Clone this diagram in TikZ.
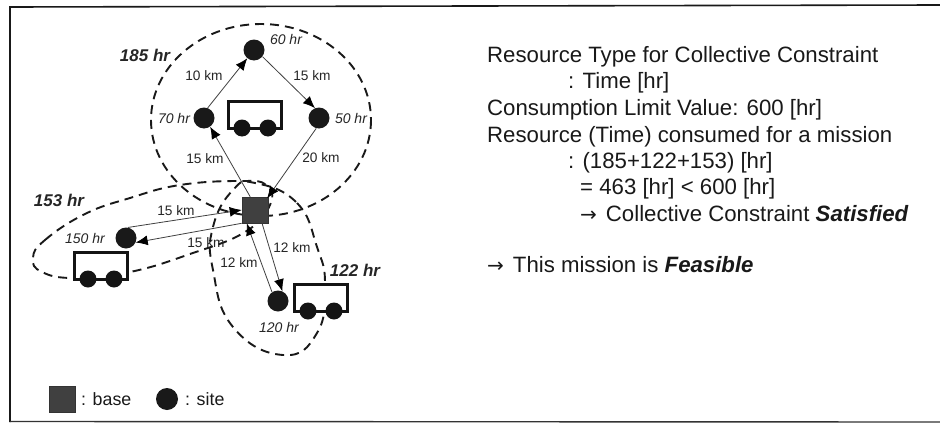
\documentclass[tikz,border=0pt]{standalone}
\usepackage{fontspec}
\setmainfont{Liberation Sans}
\newfontfamily\arrowfont{DejaVu Sans}
\usetikzlibrary{arrows.meta}
\tikzset{
  x=1pt,y=-1pt,
  sitenode/.style={circle,fill=black!90,draw=none,minimum size=21pt,inner sep=0pt},
  basenode/.style={rectangle,fill=black!75,draw=black!80,line width=0.6pt,minimum size=26pt,inner sep=0pt},
  wheel/.style={circle,fill=black!92,draw=none,minimum size=17pt,inner sep=0pt},
  cartbody/.style={draw=black!92,line width=3pt,fill=white,line join=miter},
  zone/.style={draw=black!90,line width=1.9pt,dash pattern=on 9pt off 6pt},
  link/.style={draw=black!75,line width=0.8pt,-{Latex[length=12pt,width=10pt,black]}},
  dist/.style={font=\fontsize{13.7pt}{15pt}\selectfont,text=black!85,inner sep=0pt},
  hrs/.style={font=\fontsize{14pt}{15pt}\selectfont\itshape,text=black!85,inner sep=0pt},
  total/.style={font=\fontsize{17pt}{19pt}\selectfont\bfseries\itshape,text=black!85,inner sep=0pt},
  legendtext/.style={font=\fontsize{17.8pt}{20pt}\selectfont,text=black!90,anchor=base west,inner sep=0pt},
  body/.style={font=\fontsize{22.2pt}{26pt}\selectfont,text=black!90,anchor=base west,inner sep=0pt},
}
\newcommand{\cart}[2]{%
  \draw[cartbody] (#1,#2) rectangle ++(53,27);
  \node[wheel] at ({#1+14},{#2+27}) {};
  \node[wheel] at ({#1+40},{#2+27}) {};
}
\newcommand{\bigarrow}{{\arrowfont\fontsize{20pt}{24pt}\selectfont →}}
\begin{document}
\begin{tikzpicture}
\useasboundingbox (0,0) rectangle (940,423);
\fill[white] (0,0) rectangle (940,423);
\draw[black!90,line width=1.6pt] (940,5) -- (10,7) -- (10,422);
\draw[black!80,line width=1.4pt] (10,421.5) -- (940,422);

% dashed zones
\draw[zone] (261,120) ellipse [x radius=110,y radius=96];
\draw[zone] plot[smooth cycle,tension=0.75] coordinates {(33,258) (45,240) (85,214) (130,198) (180,185) (240,181) (266,185) (270,205) (245,232) (190,254) (130,272) (75,278) (42,272)};
\draw[zone] plot[smooth cycle,tension=0.8] coordinates {(255,183) (297,203) (317,247) (325,285) (317,333) (283,355) (233,327) (213,270) (213,227) (233,190)};

% carts
\cart{228}{101}
\cart{74}{252}
\cart{294}{284}

% nodes
\node[sitenode] (s60) at (254,50) {};
\node[sitenode] (s70) at (204,118) {};
\node[sitenode] (s50) at (319,118) {};
\node[sitenode] (s150) at (126,238) {};
\node[sitenode] (s120) at (278,301) {};
\node[basenode] (b) at (255,210) {};

% connectors
\draw[link] (b.110) -- (s70.-55);
\draw[link] (s70.70) -- (s60.-129);
\draw[link] (s60.-38) -- (s50.112);
\draw[link,shorten >=-2pt] (s50.-105) -- (b.north east);
\draw[link] (s150.80) -- (b.west);
\draw[link] (b.south west) -- (s150.-25);
\draw[link] (b.-62) -- (s120.66);
\draw[link] (s120.124) -- (b.-122);

% distance labels
\node[dist] (d1) at (204,76) {10 km};
\node[dist] (d2) at (312,76) {15 km};
\node[dist] (d3) at (205,159) {15 km};
\node[dist] (d4) at (321,158) {20 km};
\node[dist] (d5) at (176,211) {15 km};
\node[dist] (d6) at (206,243) {15 km};
\node[dist] (d7) at (292,248) {12 km};
\node[dist] (d8) at (239,263) {12 km};

% time labels
\node[hrs] (h1) at (286,39) {60 hr};
\node[hrs] (h2) at (174,118) {70 hr};
\node[hrs] (h3) at (351,118) {50 hr};
\node[hrs] (h4) at (85,238) {150 hr};
\node[hrs] (h5) at (279,327) {120 hr};
\node[total] (t1) at (145,55) {185 hr};
\node[total] (t2) at (59,200) {153 hr};
\node[total] (t3) at (355,270) {122 hr};

% legend
\node[basenode,minimum size=26pt] (lb) at (62.5,399) {};
\node[sitenode,minimum size=22pt] (ls) at (167,399) {};
\node[legendtext] (lbt) at (81,405) {: base};
\node[legendtext] (lst) at (185,405) {: site};

% right text
\node[body] at (487,62) {Resource Type for Collective Constraint};
\node[body] at (568,88) {: Time [hr]};
\node[body] at (487,115.5) {Consumption Limit Value: 600 [hr]};
\node[body] at (487,142) {Resource (Time) consumed for a mission};
\node[body] at (568,168) {: (185+122+153) [hr]};
\node[body] at (580,194) {= 463 [hr] < 600 [hr]};
\node[body] at (580,221) {\bigarrow\hspace{9pt}Collective Constraint \textbf{\textit{Satisfied}}};
\node[body] at (487,272) {\bigarrow\hspace{9pt}This mission is \textbf{\textit{Feasible}}};
\end{tikzpicture}
\end{document}
